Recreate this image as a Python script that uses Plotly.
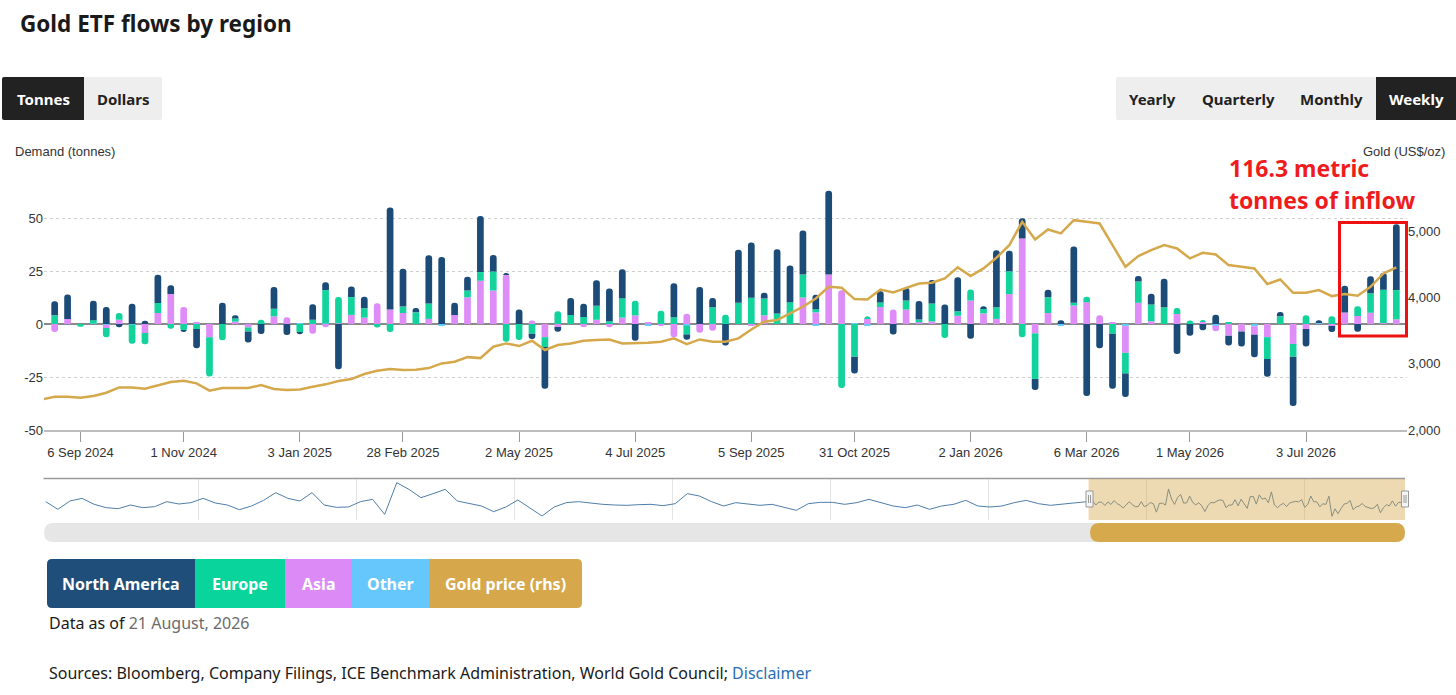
import plotly.graph_objects as go
import pandas as pd

W, H = 1456, 695
L, R = 44, 1407   # plot area left / right in pixels
FIG_H = 703       # drawn a little taller; the page photo comes out 695 high

# ---- data -------------------------------------------------------------
weeks = pd.date_range("2024-08-23", periods=105, freq="7D")

north_america = [
    6.6, 11.5, 0, 9.2, 8.0, -1.5, 9.5, 1.5, 13.3, 4.1,
    -0.8, -9.0, 0, 10.0, 1.5, -5.2, -4.7, 10.2, -5.2, -0.6,
    7.3, 3.7, -21.4, 5.0, 5.4, 0, 48.2, 17.9, 2.0, 22.7,
    31.6, 5.7, 6.5, 26.5, 7.7, 0.3, 6.8, -2.5, -19.7, -2.3,
    8.0, 6.2, 12.0, 15.5, 13.6, -7.9, 0, 0, 16.0, -2.4,
    17.5, 4.4, -10.2, 25.0, 26.0, 2.7, 30.3, 17.3, 20.8, 6.8,
    39.5, 0, -8.0, 0, 5.2, -5.0, 6.0, 8.7, 11.1, 9.2,
    16.1, -7.0, 1.3, 26.9, 9.6, 9.6, -5.2, 3.6, 1.8, 26.5,
    -34.0, -11.4, -26.0, -11.0, 2.7, 5.1, 13.4, -14.1, -5.5, -3.0,
    4.4, -4.6, -7.1, -10.6, -8.4, 2.1, -23.3, -8.2, 0.9, -2.8,
    12.6, -3.6, 8.0, 7.8, 31.0,
]
europe = [
    4.1, 0, -1.3, 1.5, -4.3, 3.2, -9.0, -5.2, 4.7, -2.2,
    -3.0, -2.4, -18.5, -7.7, 1.5, -1.9, 2.0, 3.6, 0, -4.2,
    2.0, 15.7, 12.3, 8.4, 4.4, -1.6, -3.8, 3.0, 5.5, 7.3,
    0, 0, 3.2, 4.1, 9.0, -8.4, -7.6, -4.6, -4.7, 6.0,
    4.3, 3.3, 6.6, 1.3, 9.2, 7.0, 0, 6.3, 3.2, -4.2,
    0, 7.9, 4.4, 10.0, 12.4, 7.9, 5.0, 10.3, 10.8, 1.5,
    0, -30.2, -15.4, 1.2, 2.2, 0, 4.3, 1.3, 8.5, -6.6,
    2.1, 5.2, 2.2, 5.5, 10.8, -6.2, -21.5, 7.4, 0, 1.3,
    2.5, 0, -4.6, -9.8, 10.0, 7.9, 7.9, 2.8, 1.6, 0.6,
    0, 0.8, 0, 0, -10.3, 3.6, -6.0, 4.1, 0, 3.6,
    0, 4.6, 9.2, 15.8, 13.8,
]
asia = [
    -3.8, 2.4, 0, 0, -1.5, 2.0, 0, -4.3, 5.2, 14.2,
    8.0, 0.8, -6.3, 0, 1.1, -1.6, 0, 3.6, 3.2, 0,
    -4.6, -1.5, 0.4, 4.3, 3.0, 9.8, 6.8, 5.2, 0, 2.4,
    0, 4.3, 12.6, 20.4, 15.8, 23.4, 0, 1.6, -6.2, -1.4,
    0, -1.4, 2.0, -1.5, 3.0, 4.0, 0.8, -1.0, -6.3, 4.8,
    -4.1, -3.2, 0, 0, -0.8, 4.1, 0, 0, 12.5, 5.5,
    23.3, 15.9, 0, 2.4, 8.0, 6.8, 6.8, 0.8, 1.2, 0,
    3.9, 11.1, 4.9, 2.4, 14.1, 40.3, -4.4, 5.2, 0, 8.7,
    10.3, 4.1, 0.8, -12.6, 10.0, 1.3, 0, 4.7, 0, 1.0,
    -2.6, -5.5, -3.5, -4.0, -6.2, 0, -9.4, -2.4, 0, -1.0,
    5.4, 3.8, 5.3, 0.4, 2.2,
]
other = [
    0, 0, 0, 0.3, -0.4, 0, -0.3, 0, 0, 0,
    0, 0, 0, 0, 0, 0, 0, 0, 0, 0.3,
    0, 0.3, 0, 0, 0, 0, 0, 0, 0, 0,
    -0.5, 0, 0, 0, 0, 0, 0, 0, 0, 0,
    0, 0, 0, 0, 0, 0, -0.5, 0, 0, -0.8,
    0, 0, 0, 0, 0, 0, 0, 0, 0, -0.5,
    0, 0, 0.4, -0.8, 0, 0, 0, 0, 0, 0,
    0, 0, 0, 0, 0, 0, 0, 0, -0.6, 0,
    0, 0, 0, -1.0, 0, 0, 0, 0, 0, 0,
    -0.8, 0, 0, -1.1, 0, 0, 0, 0, 0.9, 0,
    0, 0, 0, 0, 0,
]

gold_dates = pd.date_range("2024-08-16", periods=106, freq="7D")
gold_price = [
    2460,
    2503, 2503, 2488, 2513, 2563, 2643, 2643, 2623, 2668, 2724,
    2744, 2704, 2593, 2633, 2633, 2633, 2679, 2618, 2603, 2613,
    2653, 2689, 2739, 2769, 2845, 2895, 2920, 2905, 2910, 2935,
    3005, 3030, 3100, 3085, 3257, 3307, 3267, 3347, 3207, 3282,
    3307, 3347, 3357, 3367, 3307, 3307, 3317, 3332, 3383, 3297,
    3367, 3332, 3332, 3383, 3518, 3634, 3659, 3759, 3860, 3986,
    4161, 4146, 3976, 3971, 4121, 4076, 4146, 4212, 4222, 4288,
    4454, 4323, 4439, 4600, 4790, 5142, 4877, 5027, 4967, 5167,
    5142, 5117, 4790, 4464, 4625, 4715, 4790, 4740, 4590, 4675,
    4650, 4489, 4464, 4439, 4202, 4272, 4071, 4071, 4112, 4021,
    4051, 4026, 4162, 4363, 4454,
]

# navigator history (North America, sampled every 4 weeks before the window)
nav_hist_dates = pd.date_range("2018-01-12", periods=87, freq="28D")
nav_hist = [
    10, -13, 12, 20, 2, -8, -11, 0, -8, -5,
    10, 3, 7, 20, 6, 0, -14, -3, 14, 37,
    20, 12, 37, 0, -7, -6, 10, 17, -28, 67,
    47, 22, 34, 47, 12, 4, -3, -20, -6, 15,
    -10, -33, -6, 7, 10, 5, 2, 0, -1, 1,
    2, -2, 4, 34, 27, 10, -3, 7, 2, -1,
    2, -6, -16, 4, 8, 8, 2, 7, 17, 7,
    -3, -8, 0, -13, -3, 2, 14, -3, -6, -3,
    7, 14, 4, -1, 3, 7, 10,
]

tick_dates = ["2024-09-06", "2024-11-01", "2025-01-03", "2025-02-28", "2025-05-02",
              "2025-07-04", "2025-09-05", "2025-10-31", "2026-01-02", "2026-03-06",
              "2026-05-01", "2026-07-03"]
tick_labels = ["6 Sep 2024", "1 Nov 2024", "3 Jan 2025", "28 Feb 2025", "2 May 2025",
               "4 Jul 2025", "5 Sep 2025", "31 Oct 2025", "2 Jan 2026", "6 Mar 2026",
               "1 May 2026", "3 Jul 2026"]

series = [
    ("North America", north_america, "#1c4b78"),
    ("Europe", europe, "#12d39b"),
    ("Asia", asia, "#de8cf7"),
    ("Other", other, "#66c8fb"),
]

# ---- helpers ------------------------------------------------------------
def px(x):
    return (x - L) / (R - L)


def py(y):
    return 1 - y / H


def box(x0, y0, x1, y1, fill, r=0, rl=True, rr=True):
    ax, ay = r / (R - L), r / H
    X0, X1, Yt, Yb = px(x0), px(x1), py(y0), py(y1)
    lx, ly = (ax, ay) if rl else (0, 0)
    qx, qy = (ax, ay) if rr else (0, 0)
    path = (f"M {X0 + lx},{Yt} L {X1 - qx},{Yt} Q {X1},{Yt} {X1},{Yt - qy} "
            f"L {X1},{Yb + qy} Q {X1},{Yb} {X1 - qx},{Yb} L {X0 + lx},{Yb} "
            f"Q {X0},{Yb} {X0},{Yb + ly} L {X0},{Yt - ly} Q {X0},{Yt} {X0 + lx},{Yt} Z")
    return dict(type="path", xref="paper", yref="paper", path=path,
                fillcolor=fill, line=dict(width=0), layer="below")


def label(x, y, text, size=15, color="#222", anchor="center", family="Noto Sans"):
    return dict(xref="paper", yref="paper", x=px(x), y=py(y), text=text,
                showarrow=False, xanchor=anchor, yanchor="middle",
                font=dict(family=family, size=size, color=color))


# ---- figure -------------------------------------------------------------
fig = go.Figure()

# stacking from zero outwards: Other, Asia, Europe, North America
for name, vals, color in reversed(series):
    fig.add_trace(go.Bar(
        x=weeks, y=[v if v != 0 else None for v in vals], name=name,
        marker=dict(color=color, line=dict(width=0), cornerradius="50%"),
        xaxis="x", yaxis="y",
    ))

fig.add_trace(go.Scatter(
    x=gold_dates, y=gold_price, name="Gold price (rhs)", mode="lines",
    line=dict(color="#d5a84b", width=2.5), xaxis="x", yaxis="y2",
))

# navigator
fig.add_trace(go.Scatter(
    x=list(nav_hist_dates) + list(weeks), y=nav_hist + north_america,
    mode="lines", line=dict(color="#4f7ea9", width=1),
    xaxis="x2", yaxis="y3",
))

axis_font = dict(family="Liberation Sans", size=13, color="#333")

fig.update_layout(
    width=W, height=FIG_H, autosize=False,
    margin=dict(l=L, r=W - R, t=0, b=0),
    paper_bgcolor="white", plot_bgcolor="white",
    showlegend=False, barmode="relative", bargap=0.48,
    xaxis=dict(
        domain=[0, 1], anchor="y", type="date",
        range=["2024-08-17 05:00", "2026-08-26 19:00"],
        tickvals=tick_dates, ticktext=tick_labels,
        ticks="outside", ticklen=10, tickcolor="#999",
        showline=True, linecolor="#bdbdbd", linewidth=1.5,
        showgrid=False, zeroline=False, tickfont=axis_font,
    ),
    yaxis=dict(
        domain=[py(430), py(165)], anchor="x", range=[-50, 75],
        tickvals=[-50, -25, 0, 25, 50, 75],
        ticktext=["-50", "-25", "0", "25", "50", ""],
        showgrid=True, gridcolor="#cfcfcf", griddash="dot", gridwidth=1,
        zeroline=True, zerolinecolor="#8a8a8a", zerolinewidth=1.5,
        ticks="", tickfont=axis_font,
    ),
    yaxis2=dict(
        overlaying="y", side="right", anchor="x", range=[2000, 6000],
        tickvals=[2000, 3000, 4000, 5000], tickformat=",",
        showgrid=False, zeroline=False, ticks="", tickfont=axis_font,
    ),
    xaxis2=dict(
        domain=[0, px(1405)], anchor="y3", type="date",
        range=["2018-01-08", "2026-08-22"],
        tick0="2018-01-01", dtick="M12", showgrid=True, gridcolor="#e4e4e4",
        showticklabels=False, ticks="", zeroline=False, showline=False,
    ),
    yaxis3=dict(
        domain=[py(520), py(479)], anchor="x2", range=[-45, 78],
        showgrid=False, showticklabels=False, zeroline=False, ticks="",
    ),
)

shapes = []
ann = []

# header title and toggle buttons
ann.append(label(18, 24, "<b>Gold ETF flows by region</b>", size=22.5, color="#1a1a1a",
                 anchor="left"))
shapes.append(box(2, 77, 84, 120, "#222222", r=2, rr=False))
shapes.append(box(84, 77, 162, 120, "#eeeeee", r=2, rl=False))
ann.append(label(43, 99, "<b>Tonnes</b>", color="white"))
ann.append(label(123, 99, "<b>Dollars</b>"))
shapes.append(box(1116, 77, 1456, 120, "#eeeeee", r=2, rr=False))
shapes.append(box(1376, 77, 1456, 120, "#222222", r=0))
ann.append(label(1152, 99, "<b>Yearly</b>"))
ann.append(label(1238, 99, "<b>Quarterly</b>"))
ann.append(label(1331, 99, "<b>Monthly</b>"))
ann.append(label(1416, 99, "<b>Weekly</b>", color="white"))

# axis titles
ann.append(label(13, 151, "Demand (tonnes)", size=13, color="#333", anchor="left",
                 family="Liberation Sans"))
ann.append(label(1447, 151, "Gold (US$/oz)", size=13, color="#333", anchor="right",
                 family="Liberation Sans"))

# red call-out
ann.append(label(1227, 168, "<b>116.3 metric</b>", size=23, color="#ee1c1c", anchor="left"))
ann.append(label(1227, 200, "<b>tonnes of inflow</b>", size=23, color="#ee1c1c",
                 anchor="left"))
shapes.append(dict(type="rect", xref="paper", yref="paper",
                   x0=px(1339.5), x1=px(1406.5), y0=py(336), y1=py(222.5),
                   line=dict(color="#ee1111", width=3), fillcolor="rgba(0,0,0,0)",
                   layer="above"))

# navigator frame, selection and handles
shapes.append(dict(type="line", xref="paper", yref="paper", x0=px(43.5), x1=px(1405),
                   y0=py(478.5), y1=py(478.5), line=dict(color="#9a9a9a", width=1.5)))
shapes.append(dict(type="rect", xref="x2", yref="paper",
                   x0="2024-08-20", x1="2026-08-22", y0=py(520), y1=py(479),
                   fillcolor="#d4a84b", opacity=0.42, line=dict(width=0), layer="above"))
for hx in (1089.5, 1405):
    shapes.append(dict(type="rect", xref="paper", yref="paper",
                       x0=px(hx - 3.5), x1=px(hx + 3.5), y0=py(507), y1=py(491),
                       fillcolor="#f4f4f4", line=dict(color="#999", width=1),
                       layer="above"))
    for dx in (-1, 1):
        shapes.append(dict(type="line", xref="paper", yref="paper",
                           x0=px(hx + dx), x1=px(hx + dx), y0=py(503), y1=py(495),
                           line=dict(color="#999", width=1), layer="above"))

# scrollbar
shapes.append(box(44, 523, 1405, 542, "#e6e6e6", r=9.5))
shapes.append(box(1090, 523, 1405, 542, "#d6a94c", r=9.5))

# legend as coloured buttons
legend_boxes = [
    ("North America", 47, 195, "#1f4e7b"),
    ("Europe", 195, 285, "#09d49b"),
    ("Asia", 285, 352, "#dc8af6"),
    ("Other", 352, 429, "#65c7fb"),
    ("Gold price (rhs)", 429, 582, "#d6a84b"),
]
for i, (name, x0, x1, color) in enumerate(legend_boxes):
    shapes.append(box(x0, 559, x1, 608, color, r=5,
                      rl=(i == 0), rr=(i == len(legend_boxes) - 1)))
    ann.append(label((x0 + x1) / 2, 584, f"<b>{name}</b>", size=16, color="white"))

# footer text
ann.append(label(47, 623, 'Data as of <span style="color:#6b6b6b">21 August, 2026</span>',
                 size=16, color="#1a1a1a", anchor="left"))
ann.append(label(47, 673, 'Sources: Bloomberg, Company Filings, ICE Benchmark Administration, '
                 'World Gold Council; <span style="color:#2a6db5">Disclaimer</span>',
                 size=16, color="#1a1a1a", anchor="left"))

fig.update_layout(shapes=shapes, annotations=ann)

# page body has a default 8px margin; drop it so the figure fills the window
fig.write_html("out.html", config={"displayModeBar": False},
               post_script="document.body.style.margin='0';"
                           "document.body.style.overflow='hidden';")
